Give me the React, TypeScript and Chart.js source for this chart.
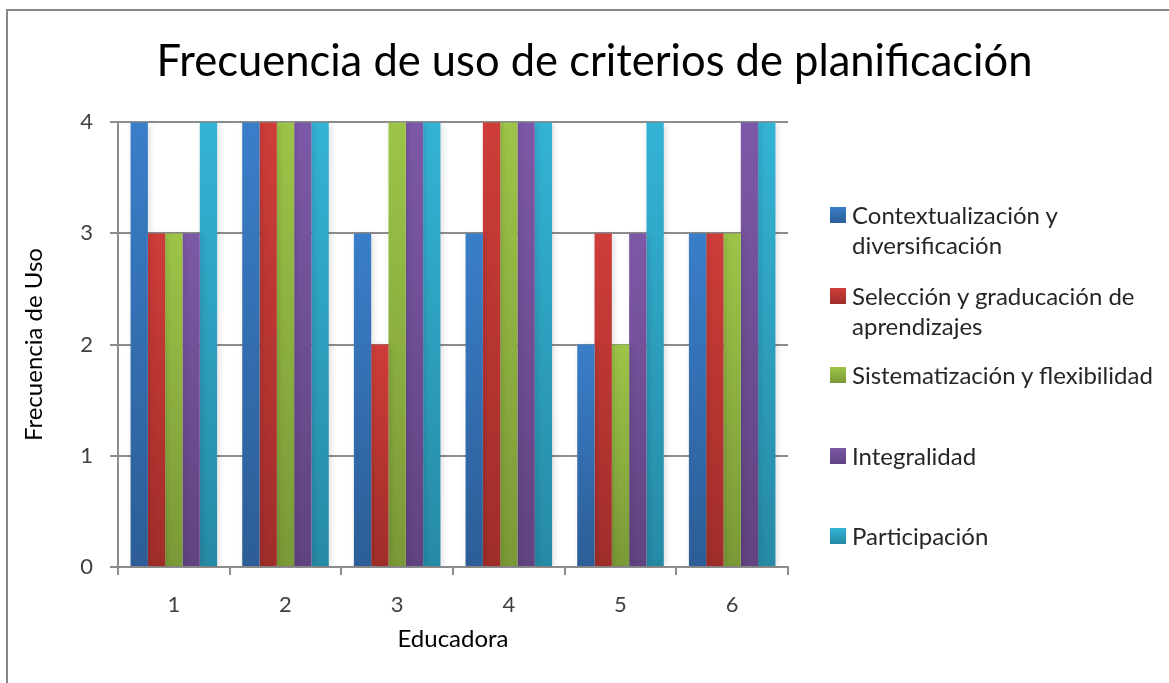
import React, { useEffect, useRef } from "react";
import { Chart, registerables } from "chart.js";

Chart.register(...registerables);

const chartTitle = "Frecuencia de uso de criterios de planificación";
const xAxisTitle = "Educadora";
const yAxisTitle = "Frecuencia de Uso";
const categories = ["1", "2", "3", "4", "5", "6"];
const yTickValues = [0, 1, 2, 3, 4];

const seriesNames = [
  "Contextualización y\ndiversificación",
  "Selección y graducación de\naprendizajes",
  "Sistematización y flexibilidad",
  "Integralidad",
  "Participación",
];
const contextualizacion = [4, 4, 3, 3, 2, 3];
const seleccion = [3, 4, 2, 4, 3, 3];
const sistematizacion = [3, 4, 4, 4, 2, 3];
const integralidad = [3, 4, 4, 4, 3, 4];
const participacion = [4, 4, 4, 4, 4, 4];
const seriesValues = [contextualizacion, seleccion, sistematizacion, integralidad, participacion];

const topColors = ["#3A7EC9", "#CE3D39", "#9DC448", "#7C59A7", "#34B3D5"];
const bottomColors = ["#2C5D96", "#A02D2A", "#7A9937", "#604380", "#268AA5"];

const GRID = "#8C8C8C";
const FONT = "Lato";

function gradientFill(i: number) {
  return (ctx: any) => {
    const chart = ctx.chart;
    const ys = chart.scales && chart.scales.y;
    if (!chart.chartArea || !ys || ctx.type !== "data") return topColors[i];
    const v = ctx.raw as number;
    const top = ys.getPixelForValue(v);
    const base = ys.getPixelForValue(0);
    const g = chart.ctx.createLinearGradient(0, top, 0, base);
    g.addColorStop(0, topColors[i]);
    g.addColorStop(1, bottomColors[i]);
    return g;
  };
}

const shadowPlugin = {
  id: "barShadow",
  beforeDatasetsDraw(chart: any) {
    const c = chart.ctx;
    c.save();
    c.shadowColor = "rgba(0,0,0,0.13)";
    c.shadowBlur = 6;
    c.shadowOffsetX = 2;
    c.shadowOffsetY = 1;
  },
  afterDatasetsDraw(chart: any) {
    chart.ctx.restore();
  },
};

export default function App() {
  const ref = useRef<HTMLCanvasElement | null>(null);

  useEffect(() => {
    document.body.style.margin = "0";
    const canvas = ref.current;
    if (!canvas) return;
    const chart = new Chart(canvas, {
      type: "bar",
      data: {
        labels: categories,
        datasets: seriesValues.map((vals, i) => ({
          label: seriesNames[i].replace("\n", " "),
          data: vals,
          backgroundColor: gradientFill(i),
          borderWidth: 0,
          barPercentage: 1,
          categoryPercentage: 0.775,
        })),
      },
      options: {
        responsive: false,
        animation: false,
        layout: { padding: { left: 20, right: 0, top: 0, bottom: 0 } },
        plugins: {
          legend: { display: false },
          tooltip: { enabled: false },
          title: {
            display: true,
            text: chartTitle,
            color: "#000",
            font: { family: FONT, size: 43.5, weight: "normal" },
            padding: { top: 36, bottom: 34 },
          },
        },
        scales: {
          x: {
            offset: true,
            afterFit: (s: any) => {
              s.height = 116;
            },
            grid: {
              display: true,
              drawOnChartArea: false,
              drawTicks: true,
              tickLength: 8,
              color: GRID,
              lineWidth: 2,
              offset: true,
            },
            border: { display: true, color: GRID, width: 2 },
            ticks: {
              color: "#404040",
              padding: 17,
              font: { family: FONT, size: 22, weight: "normal" },
            },
            title: {
              display: true,
              text: xAxisTitle,
              color: "#000",
              font: { family: FONT, size: 24, weight: "normal" },
              padding: { top: 0, bottom: 29 },
            },
          },
          y: {
            min: 0,
            max: 4,
            afterFit: (s: any) => {
              s.width = 98;
            },
            afterBuildTicks: (s: any) => {
              s.ticks = yTickValues.map((v) => ({ value: v }));
            },
            grid: {
              color: GRID,
              lineWidth: 2,
              tickLength: 8,
              drawTicks: true,
            },
            border: { display: true, color: GRID, width: 2 },
            ticks: {
              color: "#404040",
              padding: 17,
              font: { family: FONT, size: 22, weight: "normal" },
            },
            title: {
              display: true,
              text: yAxisTitle,
              color: "#000",
              font: { family: FONT, size: 24, weight: "normal" },
              padding: { top: 0, bottom: 0 },
            },
          },
          yRightSpace: {
            position: "right",
            display: true,
            afterFit: (s: any) => {
              s.width = 381;
            },
            grid: { display: false, drawTicks: false },
            border: { display: false },
            ticks: { display: false },
          },
        },
      } as any,
      plugins: [shadowPlugin],
    });
    return () => chart.destroy();
  }, []);

  const legendCenters = [215, 296, 375, 456, 536];

  return (
    <div style={{ position: "relative", width: 1169, height: 683, overflow: "hidden", background: "#fff" }}>
      <div
        style={{
          position: "absolute",
          left: 6,
          top: 9,
          width: 1200,
          height: 700,
          borderLeft: "2px solid #878787",
          borderTop: "2px solid #878787",
        }}
      />
      <canvas ref={ref} width={1169} height={683} style={{ position: "absolute", left: 0, top: 0, display: "block" }} />
      {seriesNames.map((name, i) => (
        <div
          key={i}
          style={{
            position: "absolute",
            left: 830,
            top: legendCenters[i] - 15,
            display: "flex",
            alignItems: "flex-start",
            fontFamily: FONT,
            fontWeight: 400,
            fontSize: 24,
            lineHeight: "30px",
            color: "#262626",
            whiteSpace: "pre",
          }}
        >
          <div
            style={{
              width: 16,
              height: 16,
              marginTop: 7,
              marginRight: 6,
              background: `linear-gradient(${topColors[i]}, ${bottomColors[i]})`,
              flex: "none",
            }}
          />
          <div>{name}</div>
        </div>
      ))}
    </div>
  );
}
